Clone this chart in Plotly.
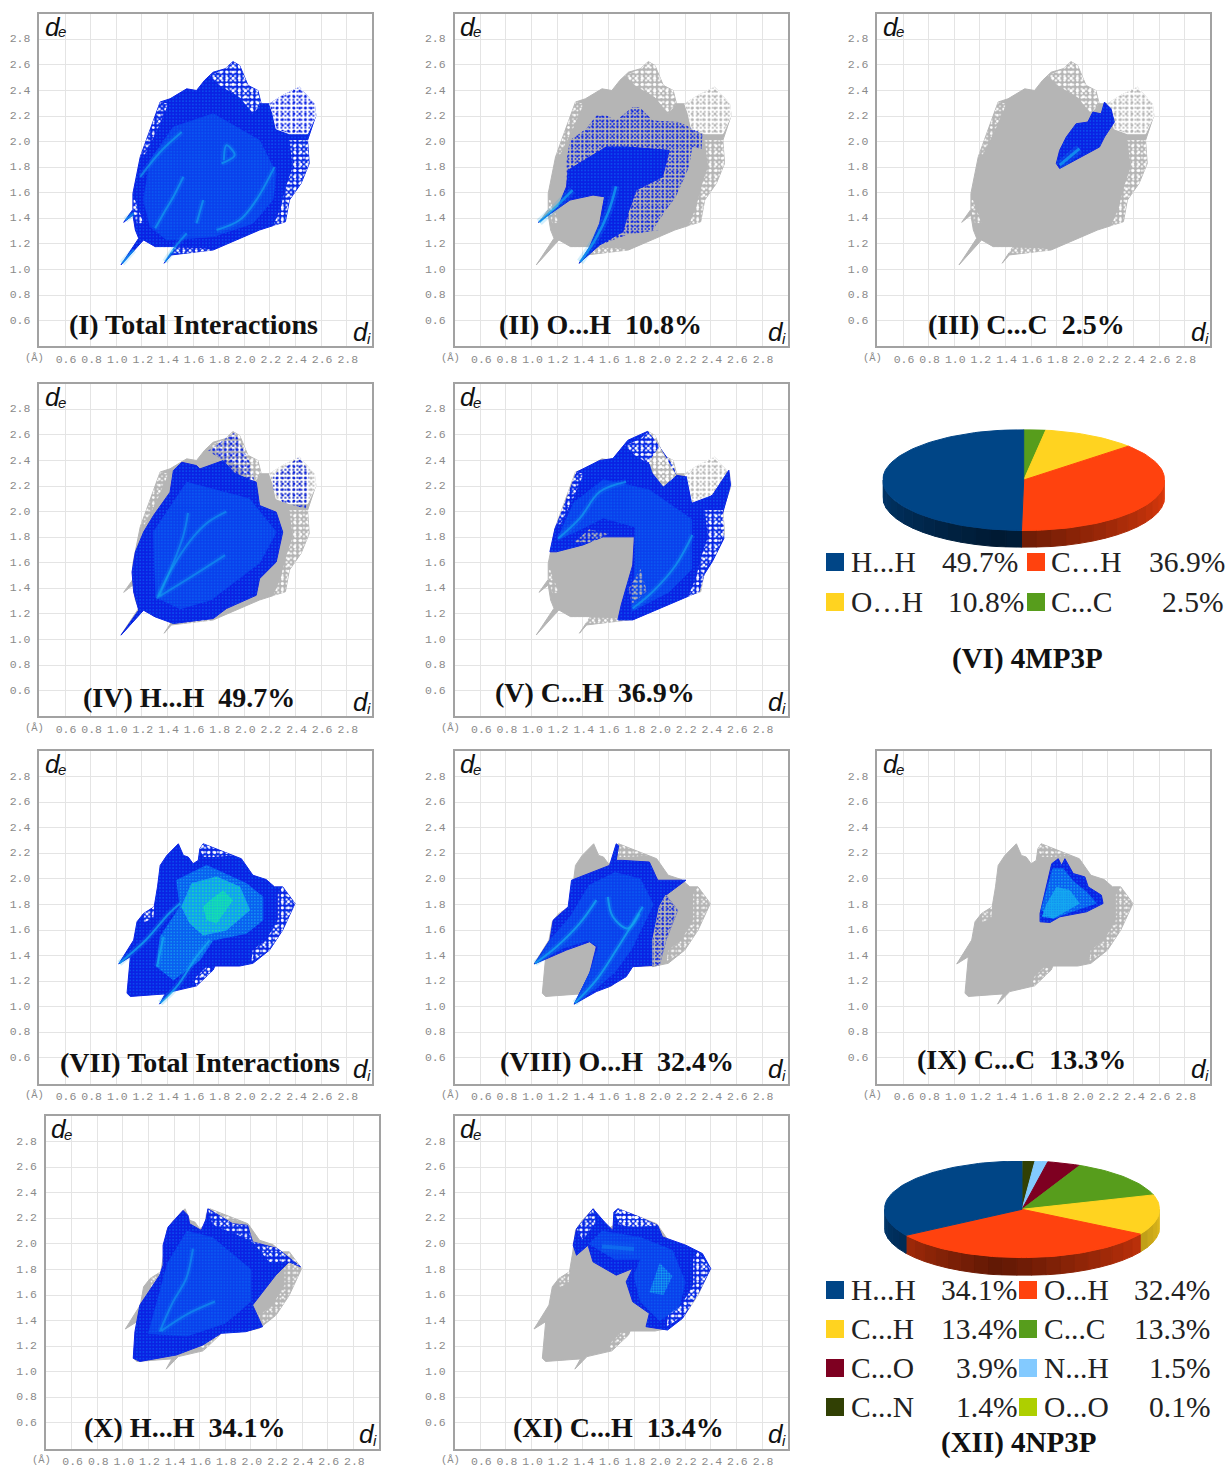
import numpy as np
import plotly.graph_objects as go

W, H = 1227, 1467
TICKS = [0.6, 0.8, 1.0, 1.2, 1.4, 1.6, 1.8, 2.0, 2.2, 2.4, 2.6, 2.8]
TICK_LABELS = [f"{t:.1f}" for t in TICKS]
GRID = [0.4, 3.0]

# ---- crystal A (4MP3P): full fingerprint outline and sparse zones (di, de in angstrom)
outline_a = [(1.037,1.036),(1.175,1.244),(1.149,1.309),(1.13,1.426),(1.058,1.369),(1.13,1.47),(1.13,1.595),(1.149,1.70),(1.187,1.88),(1.252,2.06),(1.30,2.20),(1.343,2.31),(1.42,2.335),(1.55,2.413),(1.627,2.40),(1.69,2.48),(1.757,2.543),(1.85,2.57),(1.912,2.626),(1.964,2.595),(2.029,2.44),(2.106,2.40),(2.132,2.296),(2.197,2.296),(2.30,2.361),(2.43,2.426),(2.546,2.296),(2.559,2.205),(2.494,2.01),(2.507,1.829),(2.443,1.673),(2.352,1.543),(2.321,1.374),(2.119,1.309),(1.757,1.153),(1.472,1.114),(1.43,1.114),(1.374,1.049),(1.459,1.179),(1.304,1.179),(1.213,1.231)]
a_peak = [(1.731,2.517),(1.85,2.57),(1.912,2.626),(1.964,2.595),(2.029,2.44),(2.106,2.40),(2.132,2.296),(2.067,2.218),(1.964,2.348),(1.809,2.439)]
a_lobe = [(2.197,2.296),(2.30,2.361),(2.43,2.426),(2.546,2.296),(2.559,2.205),(2.494,2.062),(2.352,2.062),(2.249,2.10),(2.223,2.218)]
a_right = [(2.494,2.01),(2.507,1.829),(2.443,1.673),(2.352,1.543),(2.321,1.374),(2.223,1.335),(2.287,1.49),(2.326,1.647),(2.378,1.803),(2.352,2.01)]
a_left = [(1.252,2.06),(1.343,2.31),(1.407,2.296),(1.317,2.088),(1.213,1.88),(1.187,1.88)]
a_patch = [(1.136,1.569),(1.187,1.439),(1.213,1.361),(1.162,1.361),(1.13,1.465)]
a_bottom = [(1.317,1.179),(1.679,1.166),(1.757,1.153),(1.498,1.114),(1.343,1.153)]

# ---- crystal B (4NP3P)
outline_b = [(1.338,1.021),(1.433,1.119),(1.627,1.164),(1.757,1.288),(1.77,1.319),(1.964,1.319),(2.067,1.34),(2.197,1.444),(2.30,1.60),(2.396,1.808),(2.30,1.938),(2.236,1.938),(2.171,1.995),(2.067,2.029),(1.977,2.158),(1.809,2.223),(1.679,2.275),(1.653,2.236),(1.64,2.145),(1.60,2.119),(1.562,2.171),(1.524,2.184),(1.485,2.275),(1.395,2.184),(1.343,2.106),(1.322,1.938),(1.296,1.782),(1.213,1.73),(1.162,1.665),(1.136,1.522),(1.019,1.335),(1.11,1.392),(1.084,1.106),(1.11,1.081),(1.317,1.094),(1.382,1.101)]
b_right = [(2.197,1.444),(2.30,1.60),(2.396,1.808),(2.30,1.938),(2.262,1.886),(2.262,1.678),(2.171,1.522),(2.067,1.444),(2.054,1.353)]
b_top = [(1.653,2.236),(1.679,2.275),(1.809,2.223),(1.912,2.184),(1.757,2.171),(1.679,2.171)]
b_lower = [(1.627,1.164),(1.757,1.288),(1.705,1.314),(1.602,1.21)]
b_left = [(1.213,1.73),(1.296,1.782),(1.29,1.70),(1.22,1.66)]

# ---- panel I
i_core = [(1.213,1.543),(1.265,1.855),(1.446,2.114),(1.757,2.218),(2.119,2.01),(2.249,1.751),(2.223,1.543),(2.067,1.361),(1.757,1.257),(1.395,1.231),(1.265,1.335)]
i_s1 = [(1.304,1.322),(1.369,1.439),(1.446,1.569),(1.524,1.725)]
i_s2 = [(1.822,1.829),(1.925,1.894),(1.86,1.971),(1.84,1.855)]
i_s3 = [(1.783,1.309),(1.964,1.387),(2.093,1.543),(2.236,1.803)]
i_s4 = [(1.187,1.725),(1.343,1.919),(1.511,2.075)]
i_s5 = [(1.679,1.543),(1.627,1.361)]
i_s6 = [(1.382,1.062),(1.472,1.192),(1.55,1.283)]
i_s7 = [(1.071,1.387),(1.136,1.439)]
i_s8 = [(1.045,1.049),(1.136,1.153)]

# ---- panel II
ii_sparse = [(1.053,1.369),(1.208,1.491),(1.273,1.647),(1.273,1.855),(1.299,2.01),(1.428,2.10),(1.506,2.205),(1.583,2.205),(1.661,2.166),(1.79,2.27),(1.842,2.27),(1.946,2.166),(2.153,2.153),(2.334,2.062),(2.329,1.945),(2.256,1.958),(2.23,1.803),(2.127,1.569),(2.049,1.465),(1.946,1.309),(1.998,1.309),(1.739,1.27),(1.532,1.192),(1.371,1.049),(1.454,1.179),(1.532,1.361),(1.57,1.569),(1.48,1.582),(1.299,1.543),(1.169,1.452)]
ii_dense = [(1.053,1.369),(1.208,1.491),(1.273,1.647),(1.286,1.777),(1.583,1.958),(1.739,1.958),(2.075,1.932),(2.023,1.725),(1.816,1.621),(1.752,1.439),(1.713,1.296),(1.532,1.192),(1.371,1.049),(1.454,1.179),(1.532,1.361),(1.57,1.569),(1.48,1.582),(1.299,1.543),(1.169,1.452)]
ii_s1 = [(1.06,1.37),(1.2,1.5),(1.32,1.62)]
ii_s2 = [(1.38,1.06),(1.5,1.24),(1.6,1.45),(1.66,1.65)]

# ---- panel III
iii_blue = [(1.797,1.829),(1.823,1.79),(2.134,1.958),(2.173,2.036),(2.25,2.153),(2.224,2.257),(2.173,2.309),(2.147,2.218),(2.082,2.231),(2.043,2.153),(1.952,2.14),(1.875,2.036),(1.823,1.932)]
iii_s1 = [(1.823,1.816),(1.978,1.945)]

# ---- panel IV
iv_blue = [(1.037,1.034),(1.175,1.229),(1.136,1.372),(1.123,1.528),(1.149,1.684),(1.213,1.84),(1.291,1.97),(1.42,2.152),(1.446,2.321),(1.511,2.386),(1.627,2.36),(1.653,2.334),(1.834,2.399),(1.925,2.3),(2.041,2.25),(2.093,2.23),(2.119,2.048),(2.249,1.996),(2.30,1.84),(2.249,1.606),(2.119,1.476),(2.093,1.346),(1.86,1.242),(1.757,1.164),(1.446,1.125),(1.304,1.177),(1.213,1.229)]
iv_peak = [(1.718,2.477),(1.925,2.62),(2.041,2.386),(2.093,2.178),(1.912,2.308),(1.834,2.399)]
iv_lobe = [(2.223,2.282),(2.43,2.425),(2.507,2.308),(2.481,2.022),(2.30,2.074),(2.223,2.178)]
iv_core = [(1.31,1.33),(1.29,1.84),(1.55,2.23),(2.04,2.1),(2.25,1.84),(2.12,1.6),(1.74,1.31),(1.5,1.24)]
iv_s1 = [(1.317,1.32),(1.42,1.53),(1.6,1.8),(1.72,1.92),(1.86,2.0)]
iv_s2 = [(1.33,1.33),(1.52,1.80),(1.56,1.99)]
iv_s3 = [(1.34,1.34),(1.6,1.5),(1.85,1.66)]

# ---- panel V
v_blue = [(1.143,1.686),(1.182,1.866),(1.247,2.022),(1.351,2.309),(1.532,2.4),(1.635,2.415),(1.752,2.558),(1.907,2.628),(1.998,2.506),(2.101,2.36),(2.127,2.285),(2.217,2.27),(2.256,2.075),(2.412,2.128),(2.541,2.324),(2.554,2.207),(2.489,1.975),(2.502,1.79),(2.412,1.61),(2.347,1.507),(2.308,1.374),(2.127,1.296),(1.79,1.153),(1.674,1.153),(1.70,1.27),(1.79,1.583),(1.803,1.803),(1.558,1.803),(1.402,1.74),(1.195,1.686)]
v_core = [(1.2,1.78),(1.33,2.07),(1.56,2.25),(1.92,2.17),(2.25,1.94),(2.25,1.55),(2.07,1.37),(1.78,1.22),(1.81,1.6),(1.81,1.88),(1.56,1.95),(1.34,1.84)]
v_hole = [(1.92,2.39),(1.998,2.506),(2.127,2.285),(2.03,2.2),(1.95,2.3)]
v_lobe = [(2.217,2.27),(2.30,2.361),(2.43,2.426),(2.50,2.33),(2.40,2.13),(2.256,2.075)]
v_patch1 = [(1.33,1.76),(1.45,1.86),(1.60,1.83),(1.48,1.76)]
v_patch2 = [(1.76,1.40),(1.85,1.55),(1.90,1.38),(1.78,1.27)]
v_s1 = [(1.208,1.79),(1.376,1.947),(1.532,2.155),(1.739,2.233)]
v_s2 = [(1.79,1.244),(1.946,1.374),(2.127,1.583),(2.256,1.817)]

# ---- panel VII
vii_mid = [(1.317,1.314),(1.343,1.548),(1.498,1.782),(1.472,1.99),(1.705,2.106),(2.016,1.964),(2.145,1.86),(2.145,1.678),(2.016,1.574),(1.757,1.522),(1.653,1.366),(1.446,1.21)]
vii_cyan = [(1.511,1.782),(1.576,1.652),(1.679,1.561),(1.86,1.60),(2.042,1.756),(1.964,1.938),(1.783,2.016),(1.589,1.964)]
vii_green = [(1.679,1.782),(1.705,1.678),(1.783,1.652),(1.912,1.834),(1.835,1.912),(1.731,1.834)]
vii_s1 = [(1.024,1.34),(1.231,1.522),(1.412,1.73),(1.498,1.808)]
vii_s2 = [(1.343,1.029),(1.472,1.158),(1.627,1.392),(1.731,1.522)]
vii_s3 = [(1.317,1.314),(1.369,1.548)]

# ---- panel VIII
viii_blue = [(1.022,1.335),(1.143,1.522),(1.169,1.678),(1.286,1.782),(1.312,1.99),(1.532,2.08),(1.609,2.106),(1.661,2.275),(1.68,2.26),(1.661,2.145),(1.713,2.145),(1.92,2.132),(1.985,1.99),(2.205,1.99),(2.049,1.873),(2.14,1.756),(2.049,1.522),(1.998,1.327),(1.79,1.314),(1.739,1.236),(1.609,1.158),(1.506,1.119),(1.332,1.021),(1.454,1.262),(1.506,1.47),(1.454,1.509),(1.273,1.444)]
viii_core = [(1.03,1.34),(1.15,1.53),(1.30,1.70),(1.45,1.95),(1.65,2.05),(1.85,2.0),(1.95,1.8),(1.85,1.6),(1.78,1.45),(1.65,1.27),(1.50,1.14),(1.34,1.03),(1.46,1.28),(1.52,1.47),(1.44,1.52),(1.25,1.46)]
viii_sparse = [(1.946,1.314),(1.998,1.327),(2.049,1.522),(2.14,1.756),(2.049,1.873),(1.998,1.782),(1.946,1.522)]
viii_s1 = [(1.027,1.34),(1.195,1.47),(1.376,1.652),(1.506,1.834)]
viii_s2 = [(1.338,1.029),(1.506,1.21),(1.661,1.444),(1.79,1.652),(1.868,1.782)]
viii_s3 = [(1.596,1.86),(1.635,1.704),(1.752,1.613),(1.842,1.73)]

# ---- panel IX
ix_blue = [(1.67,1.73),(1.761,2.119),(1.812,2.158),(1.838,2.106),(1.864,2.158),(1.929,2.042),(2.02,2.016),(2.046,1.938),(2.149,1.873),(2.162,1.808),(2.033,1.743),(1.825,1.704),(1.748,1.66),(1.67,1.665)]
ix_mid = [(1.68,1.76),(1.77,2.08),(1.85,2.08),(1.93,1.98),(2.03,1.9),(2.11,1.81),(1.93,1.75),(1.77,1.69)]
ix_cyan = [(1.722,1.808),(1.683,1.704),(1.774,1.691),(1.981,1.808),(1.903,1.912),(1.799,1.938)]

# ---- panel X
x_blue = [(1.081,1.106),(1.094,1.314),(1.133,1.522),(1.288,1.756),(1.314,1.834),(1.314,1.99),(1.353,2.132),(1.47,2.262),(1.508,2.223),(1.521,2.158),(1.612,2.106),(1.651,2.197),(1.664,2.275),(1.858,2.158),(1.974,2.145),(2.013,2.016),(2.207,1.964),(2.388,1.821),(2.298,1.86),(2.194,1.756),(2.013,1.522),(2.091,1.353),(1.961,1.314),(1.767,1.301),(1.625,1.21),(1.418,1.132),(1.133,1.081)]
x_core = [(1.2,1.3),(1.35,1.85),(1.5,2.1),(1.7,2.05),(2.0,1.8),(2.0,1.55),(1.8,1.38),(1.5,1.28)]
x_s1 = [(1.288,1.314),(1.392,1.548),(1.495,1.73),(1.547,1.964)]
x_s2 = [(1.30,1.32),(1.5,1.45),(1.72,1.55)]
x_sp1 = [(1.664,2.275),(1.858,2.158),(1.974,2.145),(2.013,2.016),(1.9,2.07),(1.7,2.15)]
x_sp2 = [(2.013,2.016),(2.207,1.964),(2.388,1.821),(2.298,1.86),(2.15,1.85)]

# ---- panel XI
xi_blue = [(1.325,1.99),(1.351,2.119),(1.48,2.275),(1.57,2.171),(1.635,2.106),(1.643,2.249),(1.674,2.275),(1.842,2.21),(1.985,2.145),(2.023,2.055),(2.205,1.99),(2.334,1.925),(2.399,1.808),(2.308,1.626),(2.179,1.418),(2.062,1.327),(1.894,1.353),(1.92,1.457),(1.79,1.548),(1.739,1.704),(1.79,1.808),(1.661,1.756),(1.48,1.86),(1.441,1.99),(1.351,1.912)]
xi_core = [(1.45,2.0),(1.55,2.1),(1.85,2.05),(2.1,1.95),(2.2,1.7),(2.15,1.5),(2.0,1.4),(1.85,1.55),(1.8,1.75),(1.85,1.88),(1.65,1.88)]
xi_cyan = [(1.92,1.62),(2.0,1.85),(2.1,1.75),(2.03,1.6)]
xi_s1 = [(1.55,1.98),(1.8,1.96)]
xi_sp1 = [(1.351,2.119),(1.48,2.275),(1.5,2.17),(1.4,2.03)]
xi_sp2 = [(1.674,2.275),(1.842,2.21),(1.985,2.145),(1.8,2.13),(1.68,2.15)]

# ---- pie values, clockwise from the top
pie_vi_labels = ["C...C", "O…H", "C…H", "H...H"]
pie_vi_values = [2.5, 10.8, 36.9, 49.7]
pie_xii_labels = ["O...O", "C...N", "N...H", "C...O", "C...C", "C...H", "O...H", "H...H"]
pie_xii_values = [0.1, 1.4, 1.5, 3.9, 13.3, 13.4, 32.4, 34.1]

# ---- styles
GRAY, BLUE, MID, CYAN, GREEN = "#b5b5b5", "#0a22e4", "#0a40ec", "#14a8f0", "#12e0b0"
NOISE = "#0a58f0"
PIE_COL = {"H...H":"#004586","C…H":"#ff420e","O…H":"#ffd320","C...C":"#579d1c","O...H":"#ff420e","C...H":"#ffd320","C...O":"#7e0021","N...H":"#83caff","C...N":"#314004","O...O":"#aecf00"}

fig = go.Figure()
ann, shapes = [], []
def px(x): return x / W
def py(y): return 1 - y / H

def text(x, y, s, size, family="Liberation Serif", color="#111", anchor="center", bold=False):
    if bold: s = f"<b>{s}</b>"
    ann.append(dict(x=px(x), y=py(y), xref="paper", yref="paper", text=s, showarrow=False, xanchor=anchor, yanchor="middle",
                    font=dict(size=size, family=family, color=color), borderpad=0, borderwidth=0))

axis_n = 0
def new_axes(l, t, r, b, xr, yr, visible=True):
    global axis_n
    axis_n += 1
    s = "" if axis_n == 1 else str(axis_n)
    common = dict(tickvals=TICKS, ticktext=TICK_LABELS, showgrid=True, gridcolor="#e4e4e4", gridwidth=1, zeroline=False,
                  showline=True, linecolor="#a2a2a2", linewidth=1.5, mirror=True, ticks="outside", tickcolor="rgba(0,0,0,0)",
                  tickfont=dict(family="Liberation Mono", size=11.5, color="#8a8a8a"), fixedrange=True)
    xa = dict(common, range=xr, domain=[px(l + 0.75), px(r - 0.75)], anchor=f"y{s}", ticklen=1, ticklabelshift=1)
    ya = dict(common, range=yr, domain=[py(b - 0.75), py(t + 0.75)], anchor=f"x{s}", ticklen=5, ticklabelshift=-1)
    if not visible:
        xa = dict(range=xr, domain=[px(l), px(r)], anchor=f"y{s}", visible=False, fixedrange=True)
        ya = dict(range=yr, domain=[py(b), py(t)], anchor=f"x{s}", visible=False, fixedrange=True)
    fig.layout[f"xaxis{s}"] = xa
    fig.layout[f"yaxis{s}"] = ya
    return f"x{s}", f"y{s}"

def poly(ax, pts, color):
    xs, ys = zip(*pts)
    fig.add_trace(go.Scatter(x=list(xs)+[xs[0]], y=list(ys)+[ys[0]], xaxis=ax[0], yaxis=ax[1], mode="lines", fill="toself",
                             fillcolor=color, line=dict(color=color, width=1), hoverinfo="skip", showlegend=False))

def one_speck(ax, pts, fg, size, sol):
    xs, ys = zip(*pts)
    fig.add_trace(go.Scatter(x=list(xs)+[xs[0]], y=list(ys)+[ys[0]], xaxis=ax[0], yaxis=ax[1], mode="lines", fill="toself",
                             fillcolor="rgba(0,0,0,0)", fillpattern=dict(shape=".", fgcolor=fg, fgopacity=1, size=size, solidity=sol),
                             line=dict(width=0), hoverinfo="skip", showlegend=False))

def speck(ax, pts, fg="white", size=4.3, sol=0.16):
    # two dot lattices of unrelated pitch, so the speckle does not read as a grid
    one_speck(ax, pts, fg, size, sol)
    one_speck(ax, pts, fg, size * 1.43, sol)

def streak(ax, pts, color=CYAN, w=2, op=0.6):
    xs, ys = zip(*pts)
    for width, opacity in ((w * 3, op * 0.25), (w, op)):
        fig.add_trace(go.Scatter(x=xs, y=ys, xaxis=ax[0], yaxis=ax[1], mode="lines", line=dict(color=color, width=width, shape="spline"),
                                 opacity=opacity, hoverinfo="skip", showlegend=False))

def blue(ax, pts):
    poly(ax, pts, BLUE)
    one_speck(ax, pts, NOISE, 3.3, 0.2)

def core(ax, pts):
    poly(ax, pts, MID)
    one_speck(ax, pts, NOISE, 3.1, 0.3)

B_ZONES = [b_right, b_top, b_lower, b_left]

def gray_a(ax):
    poly(ax, outline_a, GRAY)
    poly(ax, a_lobe, "white"); speck(ax, a_lobe, GRAY, 4, 0.2)
    speck(ax, a_peak, sol=0.22); speck(ax, a_right, sol=0.18)
    for z in (a_left, a_patch, a_bottom): speck(ax, z, sol=0.13)
def gray_b(ax):
    poly(ax, outline_b, GRAY)
    for z in B_ZONES: speck(ax, z, sol=0.12)

def panel(l, t, title, tx, ty):
    r, b = l + 334.4, t + 334
    ax = new_axes(l, t, r, b, GRID, GRID)
    text(l + 14, t + 14, "<i>d</i>", 26, "Liberation Sans", "#111")
    text(l + 23, t + 19, "<i>e</i>", 15, "Liberation Sans", "#111")
    text(l + 322, t + 319, "<i>d</i>", 26, "Liberation Sans", "#111")
    text(l + 330, t + 325, "<i>i</i>", 15, "Liberation Sans", "#111")
    text(l - 4, t + 345, "(Å)", 10.5, "Liberation Mono", "#8a8a8a")
    text(tx, ty, title, 28, bold=True)
    return ax

# I
ax = panel(38.7, 13, "(I) Total Interactions", 193.5, 325)
blue(ax, outline_a); core(ax, i_core)
poly(ax, a_lobe, "white"); speck(ax, a_lobe, BLUE, 4, 0.2)
speck(ax, a_peak, sol=0.22); speck(ax, a_right, sol=0.2); speck(ax, a_left, sol=0.15); speck(ax, a_patch, sol=0.18); speck(ax, a_bottom, sol=0.15)
for s in (i_s1, i_s2, i_s3, i_s4, i_s5, i_s6, i_s7, i_s8): streak(ax, s)
# II
ax = panel(454, 13, "(II) O...H  10.8%", 600, 325)
gray_a(ax); speck(ax, ii_sparse, BLUE, 3.5, 0.22); blue(ax, ii_dense)
for s in (ii_s1, ii_s2): streak(ax, s, w=2.5, op=0.7)
# III
ax = panel(876.7, 13, "(III) C...C  2.5%", 1026, 325)
gray_a(ax); blue(ax, iii_blue); streak(ax, iii_s1, w=3, op=0.7)
# IV
ax = panel(38.7, 383, "(IV) H...H  49.7%", 189, 697)
gray_a(ax); speck(ax, iv_peak, BLUE, 4, 0.2); speck(ax, iv_lobe, BLUE, 4, 0.16)
blue(ax, iv_blue); core(ax, iv_core)
for s in (iv_s1, iv_s2, iv_s3): streak(ax, s, w=2, op=0.5)
# V
ax = panel(454, 383, "(V) C...H  36.9%", 595, 692)
gray_a(ax); blue(ax, v_blue); core(ax, v_core)
poly(ax, v_lobe, "white"); speck(ax, v_lobe, GRAY, 4, 0.2); poly(ax, v_hole, GRAY); speck(ax, v_hole, sol=0.2)
speck(ax, a_peak, sol=0.2); speck(ax, a_right, sol=0.2); speck(ax, a_left, sol=0.15); speck(ax, v_patch1, GRAY, 4, 0.22); speck(ax, v_patch2, GRAY, 4, 0.22)
for s in (v_s1, v_s2): streak(ax, s)
# VII
ax = panel(38.7, 750.3, "(VII) Total Interactions", 200, 1062)
blue(ax, outline_b); poly(ax, vii_mid, "#0a60f0"); one_speck(ax, vii_mid, CYAN, 3.1, 0.16)
poly(ax, vii_cyan, "#12a0f0"); one_speck(ax, vii_cyan, GREEN, 3.3, 0.22); one_speck(ax, vii_green, GREEN, 2.6, 0.7)
for z in B_ZONES: speck(ax, z, sol=0.18)
for s in (vii_s1, vii_s2, vii_s3): streak(ax, s, op=0.75)
# VIII
ax = panel(454, 750.3, "(VIII) O...H  32.4%", 617, 1061.5)
gray_b(ax); blue(ax, viii_blue); core(ax, viii_core)
poly(ax, viii_sparse, GRAY); speck(ax, viii_sparse, BLUE, 3.5, 0.22)
for s in (viii_s1, viii_s2, viii_s3): streak(ax, s, op=0.75)
# IX
ax = panel(876.7, 750.3, "(IX) C...C  13.3%", 1021, 1059)
gray_b(ax); blue(ax, ix_blue); poly(ax, ix_mid, "#0a60f0"); one_speck(ax, ix_mid, CYAN, 3.1, 0.2); one_speck(ax, ix_cyan, CYAN, 2.4, 0.8)
# X
ax = panel(45.3, 1115.3, "(X) H...H  34.1%", 184, 1427)
gray_b(ax); blue(ax, x_blue); core(ax, x_core); speck(ax, x_sp1, sol=0.15); speck(ax, x_sp2, sol=0.15)
for s in (x_s1, x_s2): streak(ax, s, op=0.5)
# XI
ax = panel(454, 1115.3, "(XI) C...H  13.4%", 618, 1427)
gray_b(ax); blue(ax, xi_blue); core(ax, xi_core); one_speck(ax, xi_cyan, CYAN, 2.6, 0.5)
speck(ax, b_right, sol=0.2); speck(ax, b_top, sol=0.2); speck(ax, xi_sp1, sol=0.16); speck(ax, xi_sp2, sol=0.2)
streak(ax, xi_s1, "#1286f0", 4, 0.5)

def shade(hex_col, f):
    r, g, b = [int(hex_col[i:i+2], 16) for i in (1, 3, 5)]
    return f"rgb({int(r*f)},{int(g*f)},{int(b*f)})"

def pie3d(labels, values, cx, cy, rx, ry, depth):
    d = depth / ry
    ax = new_axes(cx - rx, cy - ry, cx + rx, cy + ry + depth, [-1, 1], [-1 - d, 1], visible=False)
    edges = np.cumsum([0] + list(values)) / sum(values) * 2 * np.pi
    # rim, in narrow strips so that it darkens toward the front
    for lab, a, b in zip(labels, edges[:-1], edges[1:]):
        a2, b2 = max(a, np.pi / 2), min(b, 3 * np.pi / 2)
        if b2 <= a2: continue
        steps = max(1, int((b2 - a2) / np.radians(6)))
        cuts = np.linspace(a2, b2, steps + 1)
        for u, v in zip(cuts[:-1], cuts[1:]):
            f = 0.38 + 0.5 * min(1, abs(np.degrees((u + v) / 2) - 190) / 95)
            th = np.linspace(u, v, 4)
            xs = np.r_[np.sin(th), np.sin(th)[::-1]]
            ys = np.r_[np.cos(th), np.cos(th)[::-1] - d]
            poly(ax, list(zip(xs, ys)), shade(PIE_COL[lab], f))
    for lab, a, b in zip(labels, edges[:-1], edges[1:]):
        th = np.linspace(a, b, max(3, int((b - a) / np.radians(2))))
        pts = [(0.0, 0.0)] + list(zip(np.sin(th), np.cos(th)))
        poly(ax, pts, PIE_COL[lab])

pie3d(pie_vi_labels, pie_vi_values, 1023.7, 480, 141, 50.5, 17)
pie3d(pie_xii_labels, pie_xii_values, 1022, 1209.3, 137.7, 48.3, 18)

def legend_row(y, sx, tx, rx, lab, pct, key):
    shapes.append(dict(type="rect", xref="paper", yref="paper", x0=px(sx), x1=px(sx + 18), y0=py(y + 9), y1=py(y - 9),
                       fillcolor=PIE_COL[key], line=dict(width=0)))
    text(tx, y, lab, 29.5, color="#222", anchor="left")
    text(rx, y, pct, 29.5, color="#222", anchor="right")

legend_row(562, 826, 851, 1018, "H...H", "49.7%", "H...H")
legend_row(562, 1027, 1051, 1225, "C…H", "36.9%", "C…H")
legend_row(602, 826, 851, 1024, "O…H", "10.8%", "O…H")
legend_row(602, 1027, 1051, 1223, "C...C", "2.5%", "C...C")
text(1027, 658, "(VI) 4MP3P", 29, bold=True)

cols = [(826, 851, 1017), (1019, 1044, 1210)]
rows = [1290, 1329, 1368, 1407]
leg_xii = [("H...H","34.1%",0,0),("O...H","32.4%",0,1),("C...H","13.4%",1,0),("C...C","13.3%",1,1),
           ("C...O","3.9%",2,0),("N...H","1.5%",2,1),("C...N","1.4%",3,0),("O...O","0.1%",3,1)]
for lab, pct, r, c in leg_xii:
    legend_row(rows[r], cols[c][0], cols[c][1], cols[c][2], lab, pct, lab)
text(1018, 1442, "(XII) 4NP3P", 29, bold=True)

fig.update_layout(width=W, height=H, margin=dict(l=0, r=0, t=0, b=0, pad=0), paper_bgcolor="white", plot_bgcolor="white",
                  showlegend=False, annotations=ann, shapes=shapes)
fig.write_html("out.html", config=dict(displayModeBar=False),
               post_script="for (const e of [document.documentElement, document.body]) { e.style.margin='0'; e.style.height='1467px'; e.style.overflow='hidden'; }")
